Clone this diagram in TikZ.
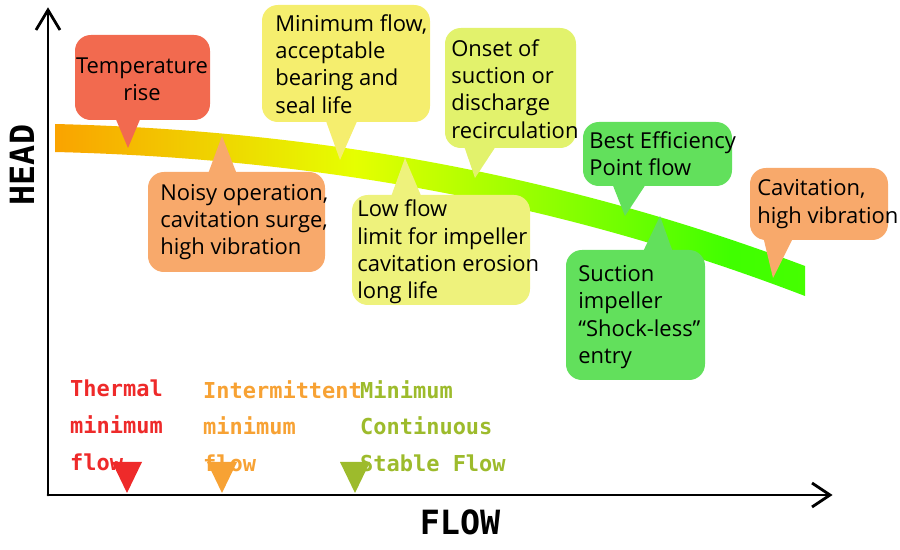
\documentclass[tikz,border=0pt]{standalone}
\usepackage{fontspec}
\setmainfont{Open Sans}
\newfontfamily\slabfont{DejaVu Sans Mono}
\usetikzlibrary{arrows.meta}
\definecolor{tempred}{HTML}{F26A4F}
\definecolor{noisyor}{HTML}{F8A96B}
\definecolor{minyel}{HTML}{F5EE6E}
\definecolor{lowyel}{HTML}{EEF27C}
\definecolor{onsetyel}{HTML}{E2F26C}
\definecolor{bepgrn}{HTML}{62E05C}
\definecolor{markred}{HTML}{EE2A2A}
\definecolor{markor}{HTML}{F7A234}
\definecolor{markgrn}{HTML}{9DBB2C}
\pgfdeclarehorizontalshading{band}{100bp}{
  color(0bp)=(red!85!orange); color(20bp)=(orange!90!yellow); color(45bp)=(yellow!90!green);
  color(70bp)=(green!75!yellow); color(82bp)=(green!70!yellow); color(93bp)=(orange); color(100bp)=(red)}
\tikzset{
  box/.style={align=left, inner sep=0pt, font=\fontsize{12.5}{15.5}\selectfont},
  flowmark/.style={font=\slabfont\bfseries\fontsize{12.5}{21}\selectfont, align=left, anchor=north west}
}
\begin{document}
\begin{tikzpicture}[x=0.02cm,y=-0.02cm]
\useasboundingbox (0,0) rectangle (900,550);
% axes
\draw[line width=1.6pt, line cap=round] (48,495) -- (48,12);
\draw[line width=1.6pt, line cap=round] (48,495) -- (828,495);
\draw[line width=1.6pt] (36,30) -- (48,10) -- (60,30);
\draw[line width=1.6pt] (812,483) -- (830,495) -- (812,507);
\node[font=\slabfont\bfseries\fontsize{19}{19}\selectfont, rotate=90] (head) at (22,165) {HEAD};
\node[font=\slabfont\bfseries\fontsize{19}{19}\selectfont] (flow) at (460,522) {FLOW};

% curve band
\shade[shading=band] (55,124) .. controls (300,130) and (550,170) .. (805,266)
  -- (805,296) .. controls (550,198) and (300,158) .. (55,152) -- cycle;

% callouts
\fill[tempred] (112,110) -- (128,148) -- (144,110) -- cycle;
\fill[tempred, rounded corners=9pt] (75,35) rectangle (210,120);
\node[box, align=center] (temp) at (142,79) {Temperature\\rise};

\fill[noisyor] (205,182) -- (222,136) -- (240,182) -- cycle;
\fill[noisyor, rounded corners=9pt] (148,172) rectangle (325,272);
\node[box, anchor=west] (noisy) at (160,222) {Noisy operation,\\cavitation surge,\\high vibration};

\fill[minyel] (322,110) -- (340,160) -- (362,110) -- cycle;
\fill[minyel, rounded corners=9pt] (262,5) rectangle (430,122);
\node[box, anchor=west] (minflow) at (275,64) {Minimum flow,\\acceptable\\bearing and\\seal life};

\fill[lowyel] (388,205) -- (405,158) -- (425,205) -- cycle;
\fill[lowyel, rounded corners=9pt] (352,195) rectangle (530,305);
\node[box, anchor=west] (lowflow) at (357,252) {Low flow\\limit for impeller\\cavitation erosion\\long life};

\fill[onsetyel] (462,140) -- (475,178) -- (500,140) -- cycle;
\fill[onsetyel, rounded corners=9pt] (445,28) rectangle (576,148);
\node[box, anchor=west] (onset) at (451,89) {Onset of\\suction or\\discharge\\recirculation};

\fill[bepgrn] (610,178) -- (625,216) -- (650,178) -- cycle;
\fill[bepgrn, rounded corners=9pt] (583,122) rectangle (732,186);
\node[box, anchor=west] (bep) at (589,154) {Best Efficiency\\Point flow};

\fill[bepgrn] (640,258) -- (660,216) -- (675,258) -- cycle;
\fill[bepgrn, rounded corners=9pt] (566,250) rectangle (705,380);
\node[box, anchor=west] (suction) at (578,317) {Suction\\impeller\\``Shock-less''\\entry};

\fill[noisyor] (762,232) -- (773,278) -- (796,232) -- cycle;
\fill[noisyor, rounded corners=9pt] (750,168) rectangle (888,240);
\node[box, anchor=west] (cav) at (757,204) {Cavitation,\\high vibration};

% minimum flow markers
\node[flowmark, text=markred] (thermal) at (64,374) {Thermal\\minimum\\flow};
\node[flowmark, text=markor] (inter) at (197,374) {Intermittent\\minimum\\flow};
\node[flowmark, text=markgrn] (mcsf) at (354,374) {Minimum\\Continuous\\Stable Flow};
\fill[markred] (112,462) -- (142,462) -- (127,493) -- cycle;
\fill[markor] (207,462) -- (237,462) -- (222,493) -- cycle;
\fill[markgrn] (340,462) -- (370,462) -- (355,493) -- cycle;
\end{tikzpicture}
\end{document}
